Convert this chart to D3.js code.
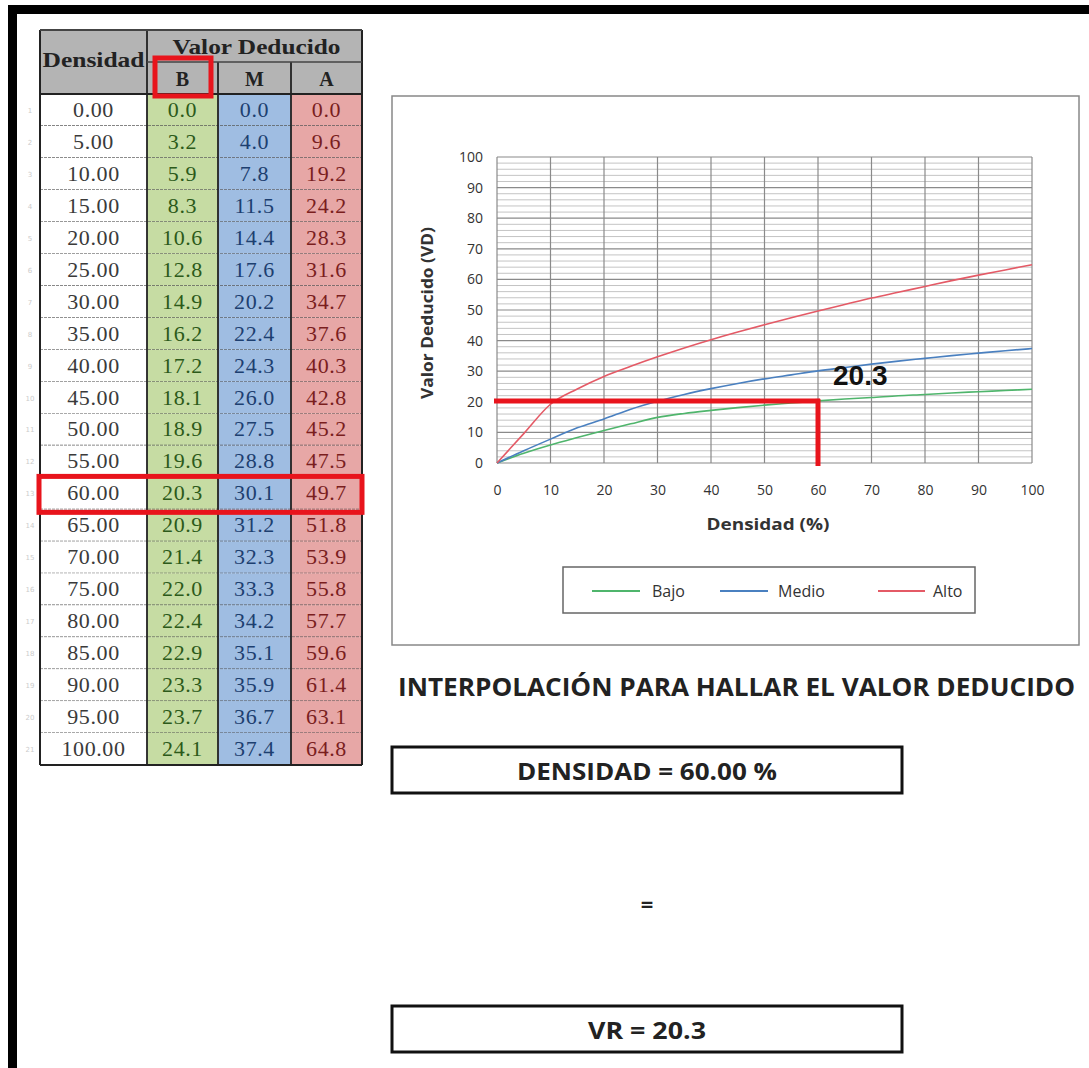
<!DOCTYPE html>
<html><head><meta charset="utf-8">
<script src="https://cdn.jsdelivr.net/npm/d3@7"></script>
<style>body{margin:0;background:#fff}svg{display:block}</style>
</head><body>
<script>
const densidad = [0,5,10,15,20,25,30,35,40,45,50,55,60,65,70,75,80,85,90,95,100];
const bajo  = [0.0,3.2,5.9,8.3,10.6,12.8,14.9,16.2,17.2,18.1,18.9,19.6,20.3,20.9,21.4,22.0,22.4,22.9,23.3,23.7,24.1];
const medio = [0.0,4.0,7.8,11.5,14.4,17.6,20.2,22.4,24.3,26.0,27.5,28.8,30.1,31.2,32.3,33.3,34.2,35.1,35.9,36.7,37.4];
const alto  = [0.0,9.6,19.2,24.2,28.3,31.6,34.7,37.6,40.3,42.8,45.2,47.5,49.7,51.8,53.9,55.8,57.7,59.6,61.4,63.1,64.8];
const seriesNames = ["Bajo","Medio","Alto"];
const colHeaders = ["B","M","A"];
const xTicks = [0,10,20,30,40,50,60,70,80,90,100];
const yTicks = [0,10,20,30,40,50,60,70,80,90,100];
const selDensidad = 60;
const selVR = 20.3;

const W=1089,H=1068;
const svg=d3.select("body").append("svg").attr("width",W).attr("height",H);
svg.append("rect").attr("width",W).attr("height",H).attr("fill","#fff");
// frame
svg.append("rect").attr("x",8).attr("y",5).attr("width",W-8).attr("height",9).attr("fill","#000");
svg.append("rect").attr("x",8).attr("y",5).attr("width",9).attr("height",H-5).attr("fill","#000");

// ---------- table ----------
const tx=[40,147,218,291,362];
const headTop=30, headMid=62, dataTop=94, rowH=31.95;
const fills=["#c6dca3","#9fbde2","#e7a7a6"];
const txtCol=["#2c5a1a","#1d3f70","#7a1e1e"];
const serif="'Liberation Serif','Times New Roman',serif";
const tbl=svg.append("g");
tbl.append("rect").attr("x",tx[0]).attr("y",headTop).attr("width",tx[4]-tx[0]).attr("height",dataTop-headTop).attr("fill","#b4b4b4");
const rows=densidad.map((d,i)=>({d,vals:[bajo[i],medio[i],alto[i]],i}));
rows.forEach(r=>{
  const y=dataTop+r.i*rowH;
  tbl.append("rect").attr("x",tx[0]).attr("y",y).attr("width",tx[1]-tx[0]).attr("height",rowH).attr("fill","#fff");
  r.vals.forEach((v,k)=>{
    tbl.append("rect").attr("x",tx[k+1]).attr("y",y).attr("width",tx[k+2]-tx[k+1]).attr("height",rowH).attr("fill",fills[k]);
    tbl.append("text").attr("x",(tx[k+1]+tx[k+2])/2).attr("y",y+rowH/2+7).attr("text-anchor","middle")
      .attr("font-family",serif).attr("font-size",22).attr("letter-spacing",0.6).attr("fill",txtCol[k]).text(v.toFixed(1));
  });
  tbl.append("text").attr("x",(tx[0]+tx[1])/2).attr("y",y+rowH/2+7).attr("text-anchor","middle")
    .attr("font-family",serif).attr("font-size",22).attr("letter-spacing",0.6).attr("fill","#3a3a3a").text(r.d.toFixed(2));
  tbl.append("text").attr("x",30).attr("y",y+rowH/2+3).attr("text-anchor","middle")
    .attr("font-family","DejaVu Sans").attr("font-size",7).attr("fill","#ccc").text(r.i+1);
  tbl.append("line").attr("x1",tx[0]).attr("x2",tx[4]).attr("y1",y+rowH).attr("y2",y+rowH).attr("stroke","#555").attr("stroke-width",1.2).attr("stroke-dasharray","3,1");
});
const tableBottom=dataTop+rows.length*rowH;
tx.forEach((x,k)=>{
  const y0 = (k===2||k===3)? headMid : headTop;
  tbl.append("line").attr("x1",x).attr("x2",x).attr("y1",y0).attr("y2",tableBottom).attr("stroke","#222").attr("stroke-width",k===0||k===4?2:1.8);
});
tbl.append("line").attr("x1",tx[0]).attr("x2",tx[4]).attr("y1",headTop).attr("y2",headTop).attr("stroke","#444").attr("stroke-width",2);
tbl.append("line").attr("x1",tx[1]).attr("x2",tx[4]).attr("y1",headMid).attr("y2",headMid).attr("stroke","#444").attr("stroke-width",1.5);
tbl.append("line").attr("x1",tx[0]).attr("x2",tx[4]).attr("y1",dataTop).attr("y2",dataTop).attr("stroke","#222").attr("stroke-width",2);
tbl.append("line").attr("x1",tx[0]).attr("x2",tx[4]).attr("y1",tableBottom).attr("y2",tableBottom).attr("stroke","#222").attr("stroke-width",2);
tbl.append("text").attr("x",(tx[0]+tx[1])/2).attr("y",67).attr("text-anchor","middle").attr("font-family",serif)
  .attr("font-weight","bold").attr("font-size",21).attr("textLength",102).attr("lengthAdjust","spacingAndGlyphs").attr("fill","#222").text("Densidad");
tbl.append("text").attr("x",(tx[1]+tx[4])/2+2).attr("y",54).attr("text-anchor","middle").attr("font-family",serif)
  .attr("font-weight","bold").attr("font-size",21).attr("textLength",168).attr("lengthAdjust","spacingAndGlyphs").attr("fill","#222").text("Valor Deducido");
colHeaders.forEach((h,k)=>{
  tbl.append("text").attr("x",(tx[k+1]+tx[k+2])/2).attr("y",86).attr("text-anchor","middle").attr("font-family",serif)
    .attr("font-weight","bold").attr("font-size",20).attr("fill","#222").text(h);
});
const selIdx=densidad.indexOf(selDensidad);
tbl.append("rect").attr("x",155).attr("y",58).attr("width",56).attr("height",38).attr("fill","none").attr("stroke","#e8141c").attr("stroke-width",5);
tbl.append("rect").attr("x",39).attr("y",dataTop+selIdx*rowH-1).attr("width",323).attr("height",rowH+4).attr("fill","none").attr("stroke","#e8141c").attr("stroke-width",5);

// ---------- chart ----------
svg.append("rect").attr("x",392).attr("y",96).attr("width",687).attr("height",549).attr("fill","#fff").attr("stroke","#888").attr("stroke-width",1.5);
const x=d3.scaleLinear().domain([0,100]).range([497,1032]);
const y=d3.scaleLinear().domain([0,100]).range([463,157]);
const g=svg.append("g");
d3.range(0,101,2).forEach(v=>{
  g.append("line").attr("x1",x(0)).attr("x2",x(100)).attr("y1",y(v)).attr("y2",y(v))
   .attr("stroke",v%10===0?"#8a8a8a":"#c4c4c4").attr("stroke-width",v%10===0?1.2:1);
});
xTicks.forEach(v=>{
  g.append("line").attr("x1",x(v)).attr("x2",x(v)).attr("y1",y(0)).attr("y2",y(100)).attr("stroke","#8a8a8a").attr("stroke-width",1.2);
});
const ax=g.append("g").attr("transform",`translate(0,${y(0)})`).call(d3.axisBottom(x).tickValues(xTicks).tickSize(0).tickPadding(22));
const ay=g.append("g").attr("transform",`translate(${x(0)},0)`).call(d3.axisLeft(y).tickValues(yTicks).tickSize(0).tickPadding(14));
[ax,ay].forEach(a=>{a.select(".domain").remove();a.selectAll("text").attr("font-family","'Open Sans',sans-serif").attr("font-size",14).attr("fill","#333");});
const lineColors=["#4fb56c","#4a80c0","#e45a66"];
const sData=[bajo,medio,alto];
const lineGen=d3.line().x(d=>x(d[0])).y(d=>y(d[1])).curve(d3.curveMonotoneX);
sData.forEach((s,k)=>{
  g.append("path").datum(densidad.map((d,i)=>[d,s[i]])).attr("d",lineGen).attr("fill","none").attr("stroke",lineColors[k]).attr("stroke-width",1.6);
});
g.append("line").attr("x1",x(0)-3).attr("x2",x(selDensidad)+2).attr("y1",y(selVR)).attr("y2",y(selVR)).attr("stroke","#e8141c").attr("stroke-width",5);
g.append("line").attr("x1",x(selDensidad)).attr("x2",x(selDensidad)).attr("y1",y(selVR)-2).attr("y2",y(0)+3).attr("stroke","#e8141c").attr("stroke-width",5);
g.append("text").attr("x",x(selDensidad)+15).attr("y",y(selVR)-16).attr("font-family","'Liberation Sans',Arial,sans-serif")
  .attr("font-weight","bold").attr("font-size",28).attr("fill","#111").text(selVR.toFixed(1));
g.append("text").attr("x",768).attr("y",530).attr("text-anchor","middle").attr("font-family","'Open Sans',sans-serif")
  .attr("font-weight","bold").attr("font-size",16).attr("textLength",123).attr("lengthAdjust","spacingAndGlyphs").attr("fill","#333").text("Densidad (%)");
g.append("text").attr("transform",`translate(433,${y(50)+3}) rotate(-90)`).attr("text-anchor","middle").attr("font-family","'Open Sans',sans-serif")
  .attr("font-weight","bold").attr("font-size",16).attr("textLength",172).attr("lengthAdjust","spacingAndGlyphs").attr("fill","#333").text("Valor Deducido (VD)");
svg.append("rect").attr("x",563).attr("y",567).attr("width",412).attr("height",46).attr("fill","#fff").attr("stroke","#666").attr("stroke-width",1.5);
const legX=[[592,640,652],[720,768,778],[878,925,933]];
seriesNames.forEach((n,k)=>{
  svg.append("line").attr("x1",legX[k][0]).attr("x2",legX[k][1]).attr("y1",591).attr("y2",591).attr("stroke",lineColors[k]).attr("stroke-width",2);
  svg.append("text").attr("x",legX[k][2]).attr("y",597).attr("font-family","'Open Sans',sans-serif").attr("font-size",16).attr("fill","#333").text(n);
});

// ---------- text blocks ----------
svg.append("text").attr("x",398).attr("y",696).attr("textLength",677).attr("lengthAdjust","spacingAndGlyphs")
  .attr("font-family","'Open Sans',sans-serif").attr("font-weight","bold").attr("font-size",25).attr("fill","#222").text("INTERPOLACIÓN PARA HALLAR EL VALOR DEDUCIDO");
svg.append("rect").attr("x",392).attr("y",747).attr("width",510).attr("height",46).attr("fill","#fff").attr("stroke","#111").attr("stroke-width",3);
svg.append("text").attr("x",647).attr("y",780).attr("text-anchor","middle").attr("textLength",260).attr("lengthAdjust","spacingAndGlyphs")
  .attr("font-family","'Open Sans',sans-serif").attr("font-weight","bold").attr("font-size",24).attr("fill","#222").text(`DENSIDAD = ${selDensidad.toFixed(2)} %`);
svg.append("text").attr("x",647).attr("y",912).attr("text-anchor","middle")
  .attr("font-family","'Open Sans',sans-serif").attr("font-weight","bold").attr("font-size",22).attr("fill","#222").text("=");
svg.append("rect").attr("x",392).attr("y",1006).attr("width",510).attr("height",46).attr("fill","#fff").attr("stroke","#111").attr("stroke-width",3);
svg.append("text").attr("x",647).attr("y",1039).attr("text-anchor","middle").attr("textLength",118).attr("lengthAdjust","spacingAndGlyphs")
  .attr("font-family","'Open Sans',sans-serif").attr("font-weight","bold").attr("font-size",24).attr("fill","#222").text(`VR = ${selVR.toFixed(1)}`);
</script>
</body></html>
